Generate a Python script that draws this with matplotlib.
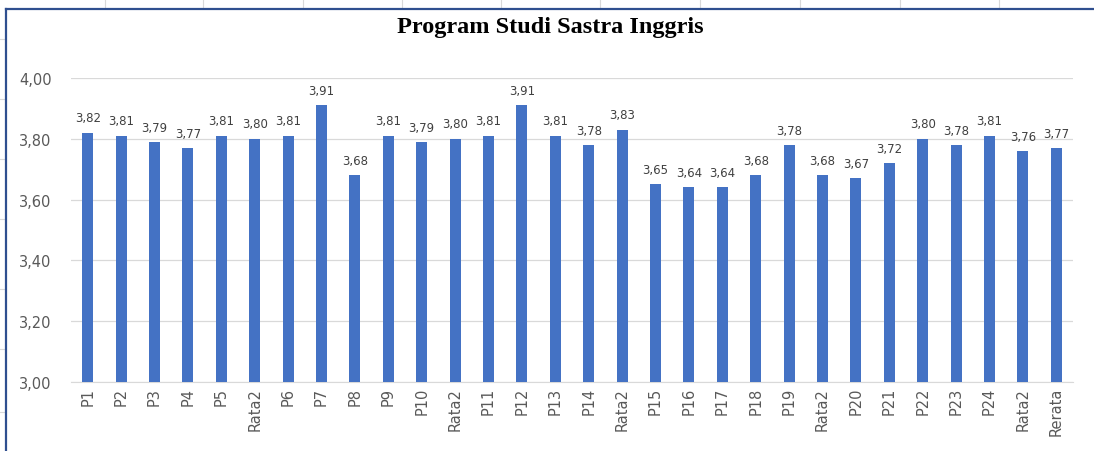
import matplotlib
matplotlib.use("Agg")
import matplotlib.pyplot as plt
from matplotlib.lines import Line2D
from matplotlib.ticker import FuncFormatter, MultipleLocator

# Data
categories = [
    "P1", "P2", "P3", "P4", "P5", "Rata2",
    "P6", "P7", "P8", "P9", "P10", "Rata2",
    "P11", "P12", "P13", "P14", "Rata2",
    "P15", "P16", "P17", "P18", "P19", "Rata2",
    "P20", "P21", "P22", "P23", "P24", "Rata2",
    "Rerata",
]
scores = [
    3.82, 3.81, 3.79, 3.77, 3.81, 3.80,
    3.81, 3.91, 3.68, 3.81, 3.79, 3.80,
    3.81, 3.91, 3.81, 3.78, 3.83,
    3.65, 3.64, 3.64, 3.68, 3.78, 3.68,
    3.67, 3.72, 3.80, 3.78, 3.81, 3.76,
    3.77,
]
title = "Program Studi Sastra Inggris"

BAR_COLOR = "#4472C4"
TEXT_GRAY = "#595959"

W, H = 1094, 452
fig = plt.figure(figsize=(W / 100, H / 100), dpi=100)

# faint spreadsheet cell lines behind the chart frame
for xc in [105, 203, 303, 402, 501, 600, 700, 800, 900, 999]:
    fig.add_artist(Line2D([xc / W, xc / W], [1, 1 - 9 / H], color="#d9d9d9", lw=0.8))
for yr in [40, 100, 160, 220, 290, 350, 413]:
    fig.add_artist(Line2D([0, 5 / W], [1 - yr / H, 1 - yr / H], color="#d9d9d9", lw=0.8))

# chart frame (top + left edges visible in the screenshot)
fig.add_artist(Line2D([6 / W, 1], [1 - 9.5 / H, 1 - 9.5 / H], color="#2F4F8F", lw=1.6))
fig.add_artist(Line2D([6 / W, 6 / W], [0, 1 - 9.5 / H], color="#2F4F8F", lw=1.6))

ax = fig.add_axes([71 / W, 69 / H, 1002 / W, 304 / H])
x = list(range(len(categories)))
ax.bar(x, [s - 3.0 for s in scores], bottom=3.0, width=0.33, color=BAR_COLOR, zorder=3)

for xi, s in zip(x, scores):
    ax.annotate(f"{s:.2f}".replace(".", ","), (xi, s), xytext=(0, 6),
                textcoords="offset points", ha="center", va="bottom",
                fontsize=8.5, color="#404040", family="Liberation Sans Narrow")

ax.set_xlim(-0.5, len(categories) - 0.5)
ax.set_ylim(3.0, 4.0)
ax.yaxis.set_major_locator(MultipleLocator(0.2))
ax.yaxis.set_major_formatter(FuncFormatter(lambda v, _: f"{v:.2f}".replace(".", ",")))
ax.grid(axis="y", color="#d9d9d9", lw=0.9, zorder=0)
ax.set_axisbelow(True)
for side in ["top", "right", "left"]:
    ax.spines[side].set_visible(False)
ax.spines["bottom"].set_color("#d9d9d9")
ax.tick_params(axis="both", length=0, colors=TEXT_GRAY, labelsize=10.5)
ax.tick_params(axis="y", pad=14)
ax.set_xticks(x)
ax.set_xticklabels(categories, rotation=90)

fig.text(550 / W, 1 - 28 / H, title, ha="center", va="center",
         fontsize=17.5, fontweight="bold", family="Liberation Serif")

fig.savefig("out.png", dpi=100)
